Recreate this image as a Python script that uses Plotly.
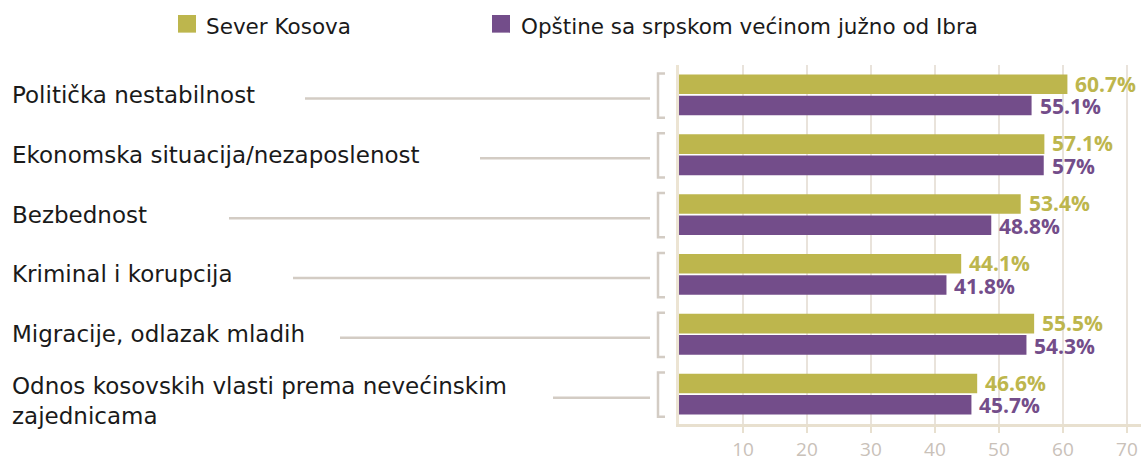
import plotly.graph_objects as go

categories = [
    "Politička nestabilnost",
    "Ekonomska situacija/nezaposlenost",
    "Bezbednost",
    "Kriminal i korupcija",
    "Migracije, odlazak mladih",
    "Odnos kosovskih vlasti prema nevećinskim<br>zajednicama",
]
series_names = ["Sever Kosova", "Opštine sa srpskom većinom južno od Ibra"]
sever = [60.7, 57.1, 53.4, 44.1, 55.5, 46.6]
juzno = [55.1, 57.0, 48.8, 41.8, 54.3, 45.7]
tick_vals = [10, 20, 30, 40, 50, 60, 70]

colors = ["#BDB64D", "#734D8A"]
W, H = 1141, 462
FONT = "DejaVu Sans"
VFONT = "Open Sans"

# layout positions (pixels)
plot_left, plot_top, plot_bottom = 679, 65, 431
line_starts = [305, 480, 229, 293, 340, 553]
line_end = 650
bracket_x = 658
bracket_tick = 665
bar_offsets = [-0.19, 0.19]


def fmt(v):
    s = f"{v:.1f}"
    if s.endswith(".0"):
        s = s[:-2]
    return s + "%"


fig = go.Figure()
annotations = []
for k, (name, vals, col) in enumerate(zip(series_names, [sever, juzno], colors)):
    fig.add_trace(go.Bar(
        y=list(range(len(categories))), x=vals, orientation="h", name=name,
        marker=dict(color=col, line=dict(width=0)),
        showlegend=False,
    ))
    for i, v in enumerate(vals):
        annotations.append(dict(
            x=v, xref="x", y=i + bar_offsets[k], yref="y", text=fmt(v),
            showarrow=False, xanchor="left", yanchor="middle", xshift=7, borderpad=0,
            font=dict(family=VFONT, size=21, color=col, weight="bold"),
        ))

shapes = []
px = lambda x: x / W
py = lambda y: (plot_bottom - y) / (plot_bottom - plot_top)

for i, cat in enumerate(categories):
    two = "<br>" in cat
    annotations.append(dict(
        x=px(10), xref="paper", y=i + (0.11 if two else 0), yref="y",
        text=cat, showarrow=False, xanchor="left", yanchor="middle", align="left",
        font=dict(family=FONT, size=23, color="#1a1a1a"),
    ))
    shapes.append(dict(type="line", xref="paper", yref="y",
                       x0=px(line_starts[i]), x1=px(line_end), y0=i + 0.06, y1=i + 0.06,
                       line=dict(color="#D3CCC4", width=2.5)))
    shapes.append(dict(type="path", xref="paper", yref="y",
                       path=f"M {px(bracket_tick)} {i - 0.36} L {px(bracket_x)} {i - 0.36} "
                            f"L {px(bracket_x)} {i + 0.38} L {px(bracket_tick)} {i + 0.38}",
                       line=dict(color="#D3CCC4", width=2.5)))

# legend (manual)
leg_sq = [(178, 196), (492, 510)]
leg_tx = [204, 519]
for k, name in enumerate(series_names):
    shapes.append(dict(type="rect", xref="paper", yref="paper",
                       x0=px(leg_sq[k][0]), x1=px(leg_sq[k][1]), y0=py(32), y1=py(14),
                       fillcolor=colors[k], line=dict(width=0)))
    annotations.append(dict(x=px(leg_tx[k]), xref="paper", y=py(26), yref="paper",
                            text=name, showarrow=False, xanchor="left", yanchor="middle",
                            font=dict(family=FONT, size=21.5, color="#1a1a1a")))

fig.update_layout(
    width=W, height=H,
    margin=dict(l=0, r=0, t=plot_top, b=H - plot_bottom),
    paper_bgcolor="white", plot_bgcolor="white",
    barmode="group", bargap=0.29, bargroupgap=0.08,
    shapes=shapes, annotations=annotations,
    font=dict(family=FONT),
    xaxis=dict(domain=[px(plot_left), 1], range=[0, 72.2], tickvals=tick_vals,
               showgrid=True, gridcolor="#E9E3DB", gridwidth=1.5,
               showline=True, linecolor="#E8E0CF", linewidth=3,
               ticks="outside", ticklen=6, tickcolor="#E8E0CF", tickwidth=1.5,
               tickfont=dict(family=VFONT, size=19, color="#C9C1B9"),
               zeroline=False, fixedrange=True),
    yaxis=dict(range=[5.5, -0.5], showticklabels=False, showgrid=False,
               zeroline=False, showline=True, linecolor="#ECE4D3", linewidth=3,
               fixedrange=True),
)

fig.write_html("out.html", config={"displayModeBar": False},
               post_script="document.body.style.margin='0px';")
